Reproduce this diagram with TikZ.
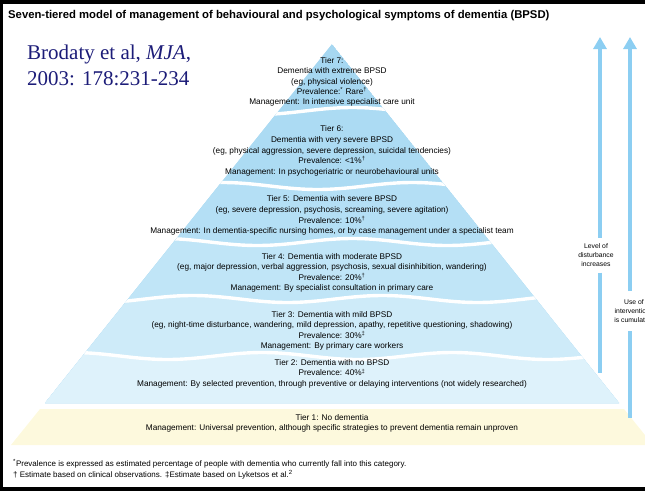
\documentclass[tikz,border=0pt]{standalone}
\usepackage{fontspec}
\setmainfont{Liberation Sans}
\newfontfamily\citefont{Liberation Serif}
\usetikzlibrary{arrows.meta}
\definecolor{tseven}{RGB}{166,215,241}
\definecolor{tsix}{RGB}{172,219,243}
\definecolor{tfive}{RGB}{180,223,245}
\definecolor{tfour}{RGB}{192,229,247}
\definecolor{tthree}{RGB}{206,235,249}
\definecolor{ttwo}{RGB}{222,242,251}
\definecolor{tone}{RGB}{253,249,221}
\definecolor{arrowblue}{RGB}{140,206,242}
\definecolor{citeblue}{RGB}{28,28,120}
\begin{document}
\begin{tikzpicture}[x=1pt,y=-1pt,
  tiertext/.style={align=center,inner sep=0pt,anchor=north,font={\fontsize{8.25}{10.3}\selectfont}},
  sidetext/.style={align=center,font={\fontsize{6.8}{9.3}\selectfont},inner xsep=0pt},
  arr/.style={draw=arrowblue,line width=4pt},
  arrhead/.style={-{Triangle[width=13pt,length=12pt]}}]
\useasboundingbox (0,0) rectangle (645,491);
% frame
\fill[black] (0,0) rectangle (645,3.5);
\fill[black] (0,0) rectangle (3,491);
\fill[black] (0,487) rectangle (645,491);
% title
\node[anchor=base west,inner sep=0pt,font={\bfseries\fontsize{11.3}{13}\selectfont}] (title) at (8,18)
  {Seven-tiered model of management of behavioural and psychological symptoms of dementia (BPSD)};
% tier 1 band
\coordinate (ytl) at (40,409);
\coordinate (ytr) at (624,409);
\coordinate (ybr) at (653,445);
\coordinate (ybl) at (11,445);
\fill[tone] (ytl) -- (ytr) -- (ybr) -- (ybl) -- cycle;
% pyramid
\coordinate (apex) at (332,44);
\coordinate (pbl) at (45,403);
\coordinate (pbr) at (619,403);
\begin{scope}
\clip (apex) -- (pbr) -- (pbl) -- cycle;
\fill[tseven] (apex) -- (pbr) -- (pbl) -- cycle;
\foreach \yy/\ph/\col in {111/20/tsix,186/80/tfive,242/400/tfour,299/50/tthree,356/120/ttwo}{
  \fill[\col] plot[domain=30:640,samples=100,smooth] (\x,{\yy+3.5*sin(1.8947*(\x-\ph))}) -- (640,410) -- (30,410) -- cycle;
}
\foreach \yy/\ph in {111/20,186/80,242/400,299/50,356/120}{
  \draw[white,line width=3.4pt] plot[domain=30:640,samples=100,smooth] (\x,{\yy+3.5*sin(1.8947*(\x-\ph))});
}
\end{scope}
% citation
\node[anchor=base west,inner sep=0pt,align=left,text=citeblue,font={\citefont\fontsize{21}{26}\selectfont}] (cite) at (27,85)
  {Brodaty et al, \textit{MJA},\\2003: 178:231-234};
% tier texts
\node[tiertext] (t7) at (332,57.5) {Tier 7:\\Dementia with extreme BPSD\\(eg, physical violence)\\Prevalence:\textsuperscript{*} Rare\textsuperscript{†}\\Management: In intensive specialist care unit};
\node[tiertext,font={\fontsize{8.25}{10.7}\selectfont}] (t6) at (332,125.5) {Tier 6:\\Dementia with very severe BPSD\\(eg, physical aggression, severe depression, suicidal tendencies)\\Prevalence: <1\%\textsuperscript{†}\\Management: In psychogeriatric or neurobehavioural units};
\node[tiertext,font={\fontsize{8.25}{10.7}\selectfont}] (t5) at (332,195.5) {Tier 5: Dementia with severe BPSD\\(eg, severe depression, psychosis, screaming, severe agitation)\\Prevalence: 10\%\textsuperscript{†}\\Management: In dementia-specific nursing homes, or by case management under a specialist team};
\node[tiertext] (t4) at (332,253.5) {Tier 4: Dementia with moderate BPSD\\(eg, major depression, verbal aggression, psychosis, sexual disinhibition, wandering)\\Prevalence: 20\%\textsuperscript{†}\\Management: By specialist consultation in primary care};
\node[tiertext] (t3) at (332,311.5) {Tier 3: Dementia with mild BPSD\\(eg, night-time disturbance, wandering, mild depression, apathy, repetitive questioning, shadowing)\\Prevalence: 30\%\textsuperscript{‡}\\Management: By primary care workers};
\node[tiertext] (t2) at (332,359.5) {Tier 2: Dementia with no BPSD\\Prevalence: 40\%\textsuperscript{‡}\\Management: By selected prevention, through preventive or delaying interventions (not widely researched)};
\node[tiertext] (t1) at (332,414.5) {Tier 1: No dementia\\Management: Universal prevention, although specific strategies to prevent dementia remain unproven};
% footnotes
\node[anchor=north west,inner sep=0pt,align=left,font={\fontsize{8}{11}\selectfont}] (fn) at (13,459)
  {\textsuperscript{*}Prevalence is expressed as estimated percentage of people with dementia who currently fall into this category.\\
   † Estimate based on clinical observations. ‡Estimate based on Lyketsos et al.\textsuperscript{2}};
% side arrows
\begin{scope}
\clip (0,0) rectangle (645,491);
\node[sidetext,inner ysep=5.5pt] (lvl) at (596,255) {Level of\\disturbance\\increases};
\node[sidetext,inner ysep=8pt] (use) at (634,311) {Use of\\interventions\\is cumulative};
\coordinate (a1) at (600,37);
\coordinate (a1b) at (600,373);
\coordinate (a2) at (630,37);
\coordinate (a2b) at (630,418);
\draw[arr,arrhead] (lvl.north -| a1) -- (a1);
\draw[arr] (lvl.south -| a1) -- (a1b);
\draw[arr,arrhead] (use.north -| a2) -- (a2);
\draw[arr] (use.south -| a2) -- (a2b);
\end{scope}
\end{tikzpicture}
\end{document}
